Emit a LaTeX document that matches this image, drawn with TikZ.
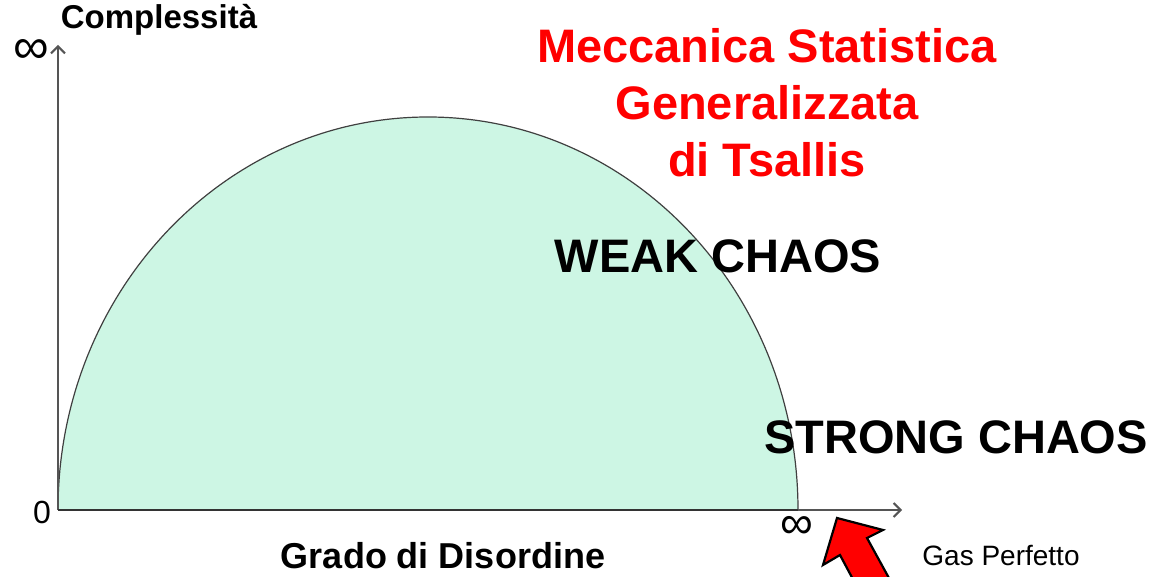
\documentclass[tikz,border=0pt]{standalone}
\usepackage{fontspec}
\setmainfont{Liberation Sans}
\usetikzlibrary{arrows.meta}
\definecolor{mint}{RGB}{205,246,228}
\definecolor{axisgray}{RGB}{85,85,85}
\definecolor{titlered}{RGB}{255,0,0}
\begin{document}
\begin{tikzpicture}[x=1pt,y=1pt,
  axisline/.style={draw=axisgray,line width=2pt,-{Straight Barb[length=7pt,width=14pt,line width=2pt]}},
  bigbold/.style={font=\fontsize{47}{57}\selectfont\bfseries,inner sep=0pt},
  lbl/.style={inner sep=0pt}]
\useasboundingbox (0,0) rectangle (1154,577);
\clip (0,0) rectangle (1154,577);
% region
\fill[mint] (58,67) arc[start angle=180,end angle=0,x radius=370,y radius=393] -- cycle;
\draw[black!75,line width=1.2pt] (58,67) arc[start angle=180,end angle=0,x radius=370,y radius=393];
% axes
\coordinate (O) at (58,67);
\coordinate (ytip) at (58,532);
\coordinate (xtip) at (902,67);
\draw[axisline] (O) -- (ytip);
\draw[axisline] (O) -- (xtip);
\draw[black!80,line width=2pt] (O) -- (798,67);
% labels
\node[lbl,font=\fontsize{33}{33}\selectfont\bfseries] (cy) at (159,557) {Complessità};
\node[lbl,font=\fontsize{50}{50}\selectfont] (inf1) at (31,525) {∞};
\node[lbl,font=\fontsize{32}{32}\selectfont] (zero) at (42,65) {0};
\node[lbl,font=\fontsize{46}{46}\selectfont] (inf2) at (797,50) {∞};
\node[lbl,font=\fontsize{36}{36}\selectfont\bfseries] (gd) at (443,21) {Grado di Disordine};
\node[lbl,font=\fontsize{28}{28}\selectfont] (gas) at (1001,21) {Gas Perfetto};
\node[bigbold,text=titlered,align=center] (title) at (767,474) {Meccanica Statistica\\Generalizzata\\di Tsallis};
\node[bigbold] (weak) at (718,321) {WEAK CHAOS};
\node[bigbold] (strong) at (956,140) {STRONG CHAOS};
% red arrow
\filldraw[fill=red,draw=black,line width=2.2pt,line join=miter]
  (837,59) -- (883,47) -- (867,39) -- (901,-23) -- (864,-23) -- (840,22) -- (823,12) -- cycle;
\end{tikzpicture}
\end{document}
